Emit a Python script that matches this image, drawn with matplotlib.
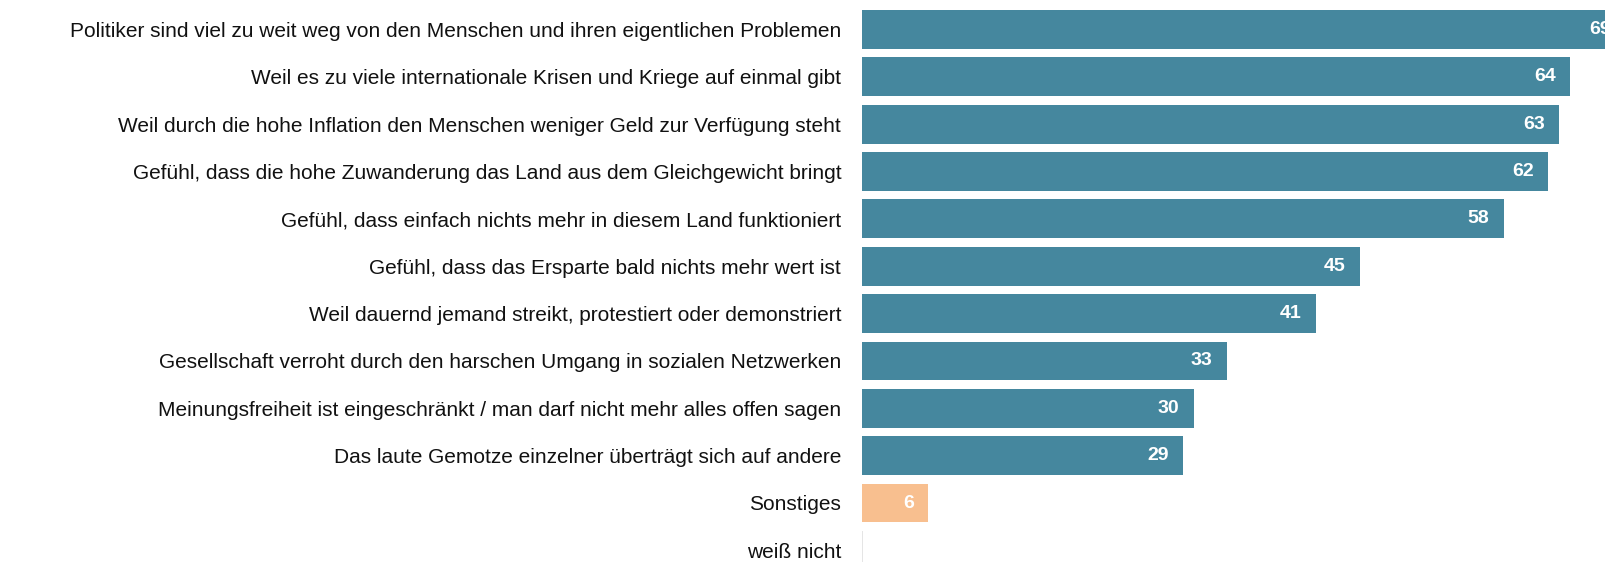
import matplotlib
matplotlib.use("Agg")
import matplotlib.pyplot as plt

plt.rcParams["font.family"] = ["Liberation Sans", "DejaVu Sans"]

categories = [
    "Politiker sind viel zu weit weg von den Menschen und ihren eigentlichen Problemen",
    "Weil es zu viele internationale Krisen und Kriege auf einmal gibt",
    "Weil durch die hohe Inflation den Menschen weniger Geld zur Verfügung steht",
    "Gefühl, dass die hohe Zuwanderung das Land aus dem Gleichgewicht bringt",
    "Gefühl, dass einfach nichts mehr in diesem Land funktioniert",
    "Gefühl, dass das Ersparte bald nichts mehr wert ist",
    "Weil dauernd jemand streikt, protestiert oder demonstriert",
    "Gesellschaft verroht durch den harschen Umgang in sozialen Netzwerken",
    "Meinungsfreiheit ist eingeschränkt / man darf nicht mehr alles offen sagen",
    "Das laute Gemotze einzelner überträgt sich auf andere",
    "Sonstiges",
    "weiß nicht",
]
values = [69, 64, 63, 62, 58, 45, 41, 33, 30, 29, 6, 0]
colors = ["#45879e"] * 10 + ["#f8bf8f", "#ffffff"]

fig = plt.figure(figsize=(16.06, 5.62), dpi=100)
ax = fig.add_axes([862 / 1606, 0, 1 - 862 / 1606, 1])

ypos = list(range(len(categories)))
bars = ax.barh(ypos, values, height=0.82, color=colors, linewidth=0)
# leere Kategorie: nur dünne graue Kante
bars[-1].set_edgecolor("#e0e0e0")
bars[-1].set_linewidth(1.2)

ax.set_xlim(0, 744 / 11.07)
ax.set_ylim((562 - 29.5) / 47.35, -29.5 / 47.35)

ax.set_yticks(ypos)
ax.set_yticklabels(categories, fontsize=15, color="#111111")
ax.tick_params(axis="y", length=0, pad=15)
ax.set_xticks([])
for s in ax.spines.values():
    s.set_visible(False)

for y, v in zip(ypos, values):
    if v > 0:
        ax.annotate(str(v), xy=(v, y), xytext=(-10.5, 0), textcoords="offset points",
                    ha="right", va="center", color="white", fontsize=14,
                    fontweight="bold", annotation_clip=False)

fig.savefig("out.png", dpi=100)
